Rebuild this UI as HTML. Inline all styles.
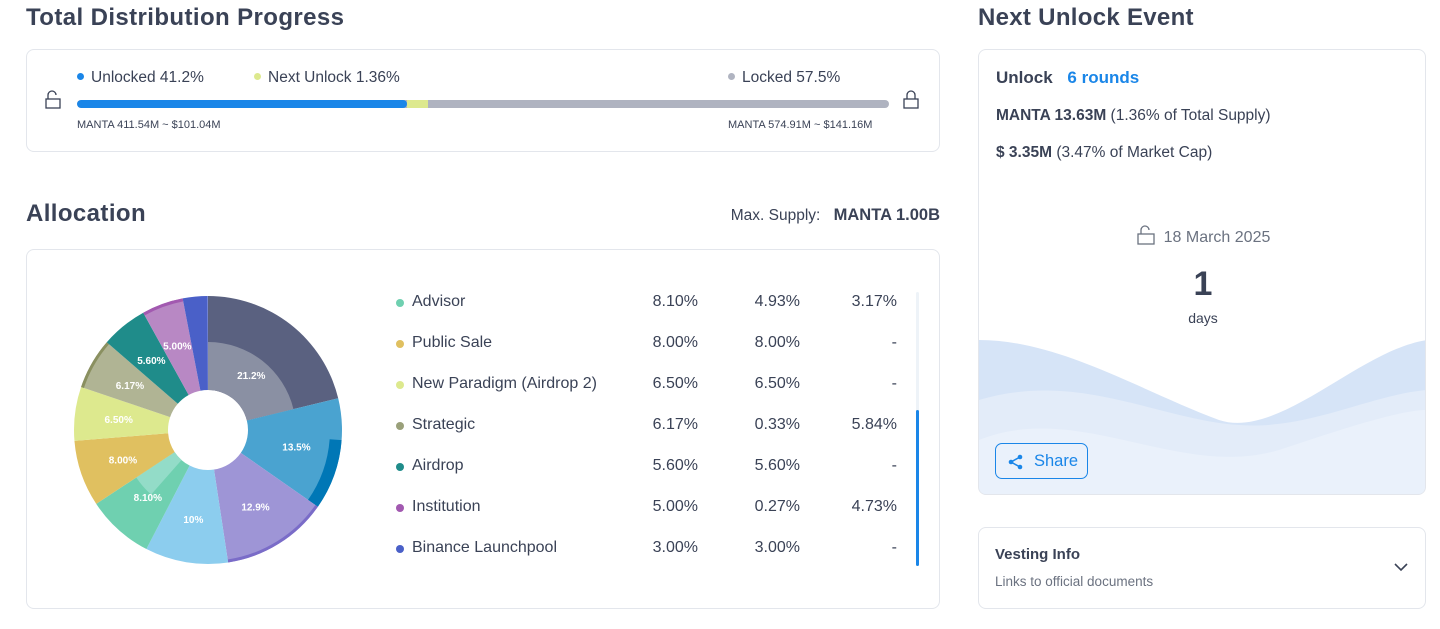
<!DOCTYPE html>
<html><head><meta charset="utf-8"><style>
*{box-sizing:border-box;margin:0;padding:0}
body{width:1440px;height:629px;background:#fff;font-family:"Liberation Sans",sans-serif;color:#3a4256;position:relative;overflow:hidden}
.abs{position:absolute}
h2{position:absolute;font-size:24px;font-weight:600;color:#3a4256}
.card{position:absolute;border:1px solid #e3e6ec;border-radius:8px;background:#fff}
.sm{font-size:11px;color:#3a4256}
.row{position:absolute;left:396px;width:510px;height:20px;font-size:16px;color:#3a4256}
.row .d{position:absolute;left:0;top:6px;width:8px;height:8px;border-radius:50%}
.row .n{position:absolute;left:16px;top:0}
.row .c{position:absolute;text-align:right;width:80px;top:0}
</style></head><body>
<h2 style="left:26px;top:4px;letter-spacing:0.4px">Total Distribution Progress</h2>
<h2 style="left:978px;top:4px;letter-spacing:0.3px">Next Unlock Event</h2>
<div class="card" style="left:26px;top:49px;width:914px;height:103px"></div>
<div class="abs" style="left:77px;top:69px;font-size:15.5px"><span style="display:inline-block;width:7px;height:7px;border-radius:50%;background:#1a86e8;margin-right:7px;vertical-align:2px"></span>Unlocked 41.2%</div>
<div class="abs" style="left:254px;top:69px;font-size:15.5px"><span style="display:inline-block;width:7px;height:7px;border-radius:50%;background:#dde98e;margin-right:7px;vertical-align:2px"></span>Next Unlock 1.36%</div>
<div class="abs" style="left:728px;top:69px;font-size:15.5px"><span style="display:inline-block;width:7px;height:7px;border-radius:50%;background:#b0b4c1;margin-right:7px;vertical-align:2px"></span>Locked 57.5%</div>
<svg class="abs" style="left:44px;top:90px" width="20" height="20"><path d="M4 9 V5 a4 4 0 0 1 8 0" fill="none" stroke="#3a4256" stroke-width="1.3"/><rect x="2" y="9" width="14" height="9" fill="none" stroke="#3a4256" stroke-width="1.3"/></svg>
<svg class="abs" style="left:902px;top:90px" width="20" height="20"><path d="M5 9 V5 a4 4 0 0 1 8 0 V9" fill="none" stroke="#3a4256" stroke-width="1.3"/><rect x="2" y="9" width="14" height="9" fill="none" stroke="#3a4256" stroke-width="1.3"/></svg>
<div class="abs" style="left:77px;top:100px;width:812px;height:8px;border-radius:4px;background:#afb3c0;overflow:hidden">
<div class="abs" style="left:0;top:0;width:330px;height:8px;background:#1a86e8;border-radius:4px"></div>
<div class="abs" style="left:330px;top:0;width:21px;height:8px;background:#dde98e"></div></div>
<div class="abs sm" style="left:77px;top:119px">MANTA 411.54M ~ $101.04M</div>
<div class="abs sm" style="left:728px;top:119px">MANTA 574.91M ~ $141.16M</div>

<h2 style="left:26px;top:200px;letter-spacing:0.4px">Allocation</h2>
<div class="abs" style="right:500px;top:206px;font-size:15.5px;white-space:nowrap">Max. Supply: <b style="margin-left:9px;font-size:16.5px">MANTA 1.00B</b></div>
<div class="card" style="left:26px;top:249px;width:914px;height:360px"></div>
<svg id="pie" class="abs" style="left:60px;top:282px" width="300" height="300"></svg>

<div class="row" style="top:293px"><span class="d" style="background:#6fd0b0"></span><span class="n">Advisor</span><span class="c" style="left:222px">8.10%</span><span class="c" style="left:324px">4.93%</span><span class="c" style="left:421px">3.17%</span></div>
<div class="row" style="top:334px"><span class="d" style="background:#e0c060"></span><span class="n">Public Sale</span><span class="c" style="left:222px">8.00%</span><span class="c" style="left:324px">8.00%</span><span class="c" style="left:421px">-</span></div>
<div class="row" style="top:375px"><span class="d" style="background:#dde98e"></span><span class="n">New Paradigm (Airdrop 2)</span><span class="c" style="left:222px">6.50%</span><span class="c" style="left:324px">6.50%</span><span class="c" style="left:421px">-</span></div>
<div class="row" style="top:416px"><span class="d" style="background:#9aa07a"></span><span class="n">Strategic</span><span class="c" style="left:222px">6.17%</span><span class="c" style="left:324px">0.33%</span><span class="c" style="left:421px">5.84%</span></div>
<div class="row" style="top:457px"><span class="d" style="background:#1f8c8a"></span><span class="n">Airdrop</span><span class="c" style="left:222px">5.60%</span><span class="c" style="left:324px">5.60%</span><span class="c" style="left:421px">-</span></div>
<div class="row" style="top:498px"><span class="d" style="background:#a259b0"></span><span class="n">Institution</span><span class="c" style="left:222px">5.00%</span><span class="c" style="left:324px">0.27%</span><span class="c" style="left:421px">4.73%</span></div>
<div class="row" style="top:539px"><span class="d" style="background:#4a60c8"></span><span class="n">Binance Launchpool</span><span class="c" style="left:222px">3.00%</span><span class="c" style="left:324px">3.00%</span><span class="c" style="left:421px">-</span></div>
<div class="abs" style="left:916px;top:292px;width:3px;height:274px;background:#eef3f8;border-radius:2px"></div>
<div class="abs" style="left:916px;top:410px;width:3px;height:156px;background:#1a86e8;border-radius:2px"></div>

<div class="card" style="left:978px;top:49px;width:448px;height:446px;overflow:hidden">
<svg class="abs" style="left:0;top:280px" width="448" height="166">
<path d="M0 10 C80 10 160 60 240 90 C300 110 380 20 448 10 V166 H0Z" fill="#d6e4f7"/>
<path d="M0 70 C100 40 180 90 260 95 C330 100 390 65 448 60 V166 H0Z" fill="#e3ecf9"/>
<path d="M0 110 C100 70 200 150 300 120 C360 100 420 80 448 80 V166 H0Z" fill="#eaf1fb"/>
</svg>
<div class="abs" style="left:17px;top:18px;font-size:17px;font-weight:600">Unlock <span style="color:#1a86e8;margin-left:10px">6 rounds</span></div>
<div class="abs" style="left:17px;top:57px;font-size:15.5px"><b>MANTA 13.63M</b> (1.36% of Total Supply)</div>
<div class="abs" style="left:17px;top:94px;font-size:15.5px"><b>$ 3.35M</b> (3.47% of Market Cap)</div>
<div class="abs" style="left:0;width:448px;top:175px;text-align:center;font-size:16px;color:#6b7280"><svg width="20" height="20" style="vertical-align:-3px;margin-right:8px"><path d="M5 9 V5 a4 4 0 0 1 8 0" fill="none" stroke="#6b7280" stroke-width="1.3"/><rect x="2" y="9" width="16" height="10" fill="none" stroke="#6b7280" stroke-width="1.3"/></svg>18 March 2025</div>
<div class="abs" style="left:0;width:448px;top:215px;text-align:center;font-size:34px;font-weight:700">1</div>
<div class="abs" style="left:0;width:448px;top:260px;text-align:center;font-size:14px">days</div>
<div class="abs" style="left:16px;top:393px;width:93px;height:36px;border:1px solid #1a86e8;border-radius:7px;color:#1a86e8;font-size:16.5px;padding:8px 0 0 38px">Share
<svg class="abs" style="left:12px;top:10px" width="16" height="16"><circle cx="12" cy="3" r="2.3" fill="#1a86e8"/><circle cx="3" cy="8" r="2.3" fill="#1a86e8"/><circle cx="12" cy="13" r="2.3" fill="#1a86e8"/><path d="M12 3 L3 8 L12 13" stroke="#1a86e8" stroke-width="1.5" fill="none"/></svg></div>
</div>
<div class="card" style="left:978px;top:527px;width:448px;height:82px"></div>
<div class="abs" style="left:995px;top:546px;font-size:15px;font-weight:600">Vesting Info</div>
<div class="abs" style="left:995px;top:574px;font-size:13.5px;color:#6b7280">Links to official documents</div>
<svg class="abs" style="left:1393px;top:562px" width="16" height="12"><path d="M2 2 L8 8 L14 2" fill="none" stroke="#3a4256" stroke-width="1.6"/></svg>
<script>
var s=document.getElementById('pie'),cx=148,cy=148,R=134,r0=40;
function arc(a0,a1,ri,ro,col){var f=function(a,r){a=(a-90)*Math.PI/180;return [cx+r*Math.cos(a),cy+r*Math.sin(a)]};
var l=(a1-a0)>180?1:0,p=f(a0,ro),q=f(a1,ro),u=f(a1,ri),v=f(a0,ri);
var e=document.createElementNS('http://www.w3.org/2000/svg','path');
e.setAttribute('d','M'+p+' A'+ro+' '+ro+' 0 '+l+' 1 '+q+' L'+u+' A'+ri+' '+ri+' 0 '+l+' 0 '+v+'Z');e.setAttribute('fill',col);s.appendChild(e);}
var d=[[21.2,'#5a6180','21.2%'],[13.5,'#4aa3d0','13.5%'],[12.9,'#9e95d6','12.9%'],[10,'#8ccdee','10%'],[8.1,'#6fd0b0','8.10%'],[8,'#e0c060','8.00%'],[6.5,'#dde98e','6.50%'],[6.17,'#b0b494','6.17%'],[5.6,'#1f8c8a','5.60%'],[5,'#b888c4','5.00%'],[3,'#4a60c8','']];
var a=0;d.forEach(function(x,i){var b=a+x[0]*3.6;arc(a,b,r0,R,x[1]);
if(i==0)arc(a,b,r0,88,'#8a90a3');
if(i==1)arc(a+18,b,122,R,'#0077b6');
if(i==2)arc(a,b,131,R,'#7a6cc8');
if(i==4)arc(a+14,b,r0,86,'#93dcc8');
if(i==7)arc(a,b,131,R,'#8a9060');
if(i==9)arc(a,b,131,R,'#a259b0');
if(x[2]){var m=(a+b)/2,rr=i==0?70:90,t=(m-90)*Math.PI/180;var tx=document.createElementNS('http://www.w3.org/2000/svg','text');
tx.setAttribute('x',cx+rr*Math.cos(t));tx.setAttribute('y',cy+rr*Math.sin(t)+4);tx.setAttribute('text-anchor','middle');tx.setAttribute('fill','#fff');tx.setAttribute('font-size','10');tx.setAttribute('font-weight','bold');tx.setAttribute('font-family','Liberation Sans');tx.textContent=x[2];s.appendChild(tx);}
a=b;});
</script>
</body></html>
